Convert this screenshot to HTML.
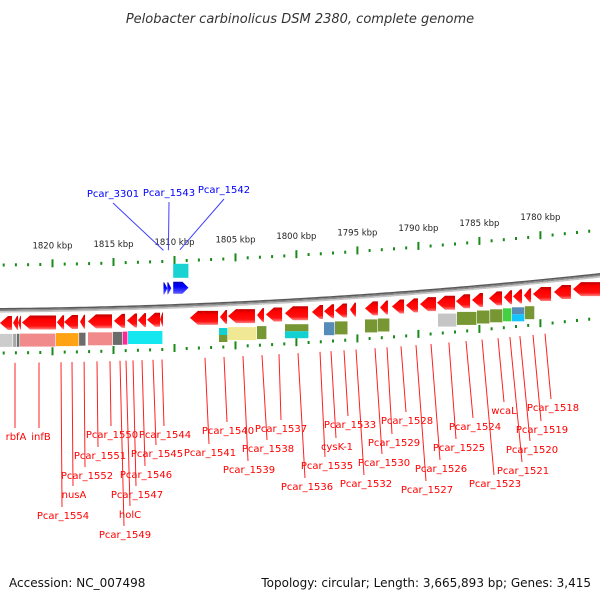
<!DOCTYPE html>
<html><head><meta charset="utf-8"><style>
html,body{margin:0;padding:0;background:#fff;}
svg{display:block;font-family:"DejaVu Sans","Liberation Sans",sans-serif;}
</style></head><body>
<svg id="map" width="600" height="600" viewBox="0 0 600 600" xmlns="http://www.w3.org/2000/svg">
<defs>
<linearGradient id="gRed" x1="0" y1="0" x2="0" y2="1"><stop offset="0" stop-color="#c00000"/><stop offset="0.3" stop-color="#ff0000"/><stop offset="0.75" stop-color="#ff1010"/><stop offset="1" stop-color="#ff8080"/></linearGradient>
<linearGradient id="gBlue" x1="0" y1="0" x2="0" y2="1"><stop offset="0" stop-color="#0000c0"/><stop offset="0.4" stop-color="#0000ff"/><stop offset="1" stop-color="#6060ff"/></linearGradient>
</defs>
<text x="300" y="23" text-anchor="middle" font-size="13" font-style="italic" fill="#333">Pelobacter carbinolicus DSM 2380, complete genome</text>
<g id="layer"></g>
<text x="9" y="587" font-size="12" fill="#111">Accession: NC_007498</text>
<text x="591" y="587" text-anchor="end" font-size="12" fill="#111">Topology: circular; Length: 3,665,893 bp; Genes: 3,415</text>
</svg>
<script>
// axis ticks (kbp)
var tickLabels = [1820,1815,1810,1805,1800,1795,1790,1785,1780];
// minus-strand genes (kbp start/end)
var geneStart = [1824.30,1823.23,1822.82,1822.50,1819.63,1819.05,1817.74,1817.09,1814.96,1813.89,1812.99,1812.25,1811.18,
 1808.73,1806.27,1805.61,1803.23,1802.50,1800.94,1798.73,1797.74,1796.84,1795.61,1794.38,1793.15,1792.17,1791.02,1789.87,1788.48,1786.92,1785.61,1784.22,1782.99,1782.25,1781.35,1780.61,1778.89,1777.33];
var geneEnd = [1823.32,1822.82,1822.58,1819.71,1819.05,1817.91,1817.33,1815.12,1814.05,1813.07,1812.33,1811.18,1810.94,
 1806.43,1805.69,1803.40,1802.66,1801.18,1799.05,1797.82,1796.92,1795.86,1795.12,1793.32,1792.50,1791.18,1790.04,1788.56,1787.00,1785.77,1784.71,1783.15,1782.33,1781.51,1780.77,1779.13,1777.50,1774.60];
// plus-strand (blue) genes
var plusStart = [1810.90,1810.58,1810.10];
var plusEnd = [1810.58,1810.26,1808.85];
// feature boxes: start, end, colour, layer (0 full, 1 top half, 2 bottom half)
var boxStart = [1824.30,1823.23,1822.91,1822.66,1819.71,1817.82,1817.09,1815.04,1814.22,1813.81,
 1806.35,1806.35,1805.61,1803.23,1800.94,1800.94,1797.74,1796.84,1794.38,1793.32,1788.40,1786.84,1785.20,1784.13,1783.07,1782.33,1782.33,1781.27];
var boxEnd = [1823.23,1822.91,1822.66,1819.71,1817.82,1817.25,1815.04,1814.22,1813.81,1810.94,
 1805.61,1805.61,1803.23,1802.41,1798.97,1798.97,1796.84,1795.77,1793.32,1792.33,1786.84,1785.20,1784.13,1783.07,1782.33,1781.27,1781.27,1780.45];
var boxColor = ['#c8c8c8','#a0a0a0','#606060','#f08080','#ff9a00','#606060','#f08080','#606060','#ff1493','#00e5ee',
 '#00cdcd','#6b8e23','#f0e68c','#6b8e23','#6b8e23','#00cdcd','#4682b4','#6b8e23','#6b8e23','#6b8e23','#c0c0c0','#6b8e23','#6b8e23','#6b8e23','#32cd32','#4682b4','#00bfff','#6b8e23'];
var boxLayer = [0,0,0,0,0,0,0,0,0,0, 1,2,0,0,1,2,0,0,0,0,0,0,0,0,0,1,2,0];
// cyan box on plus side
var topBoxStart = [1810.10], topBoxEnd = [1808.85];
// gene labels
var labelNames = ['rbfA','infB','Pcar_1554','nusA','Pcar_1552','Pcar_1551','Pcar_1550','Pcar_1549','holC','Pcar_1547','Pcar_1546','Pcar_1545','Pcar_1544',
 'Pcar_1541','Pcar_1540','Pcar_1539','Pcar_1538','Pcar_1537','Pcar_1536','Pcar_1535','cysK-1','Pcar_1533','Pcar_1532','Pcar_1530','Pcar_1529','Pcar_1528','Pcar_1527','Pcar_1526','Pcar_1525','Pcar_1524','Pcar_1523','wcaL','Pcar_1521','Pcar_1520','Pcar_1519','Pcar_1518'];
var labelKbp = [1823.07,1821.10,1819.30,1818.40,1817.41,1816.35,1815.28,1814.46,1813.97,1813.40,1812.66,1811.76,1811.02,
 1807.50,1805.94,1804.38,1802.82,1801.43,1799.87,1798.07,1797.17,1796.10,1795.12,1793.56,1792.58,1791.43,1790.20,1788.97,1787.50,1786.10,1784.79,1783.48,1782.50,1781.68,1780.61,1779.63];
var labelBotX = [15,39,62,73,85,98,111,124,130,136,145,156,164,209,227,248,267,281,305,325,336,348,364,382,392,406,426,440,456,473,494,504,522,530,541,551];
var labelTextX = [16,41,63,74,87,100,112,125,130,137,146,157,165,210,228,249,268,281,307,327,337,350,366,384,394,407,427,441,459,475,495,504,523,532,542,553];
var labelBase = [440,440,519,498,479,459,438,538,518,498,478,457,438,456,434,473,452,432,490,469,450,428,487,466,446,424,493,472,451,430,487,414,474,453,433,411];
// plus-strand labels
var plusNames = ['Pcar_3301','Pcar_1543','Pcar_1542'];
var plusKbp = [1810.90,1810.50,1809.55];
var plusTextX = [113,169,224];
var plusBase = [197,196,193];

function X(k){ return (1824.30 - k) / 0.08197; }
function arcY(x){ return 308 - 0.00833*x - 0.0000833*x*x; }

var NS='http://www.w3.org/2000/svg', layer=document.getElementById('layer');
function mk(tag, attrs){ var e=document.createElementNS(NS,tag); for(var k in attrs) e.setAttribute(k,attrs[k]); layer.appendChild(e); return e; }

// backbone arc: stacked strokes dark->light
[[0.8,'#5a5a5a',1.6],[2.3,'#8a8a8a',1.6],[3.8,'#c4c4c4',1.6]].forEach(function(s){
  var d='M-5 '+(arcY(-5)+s[0]).toFixed(1);
  for(var x=0;x<=605;x+=5) d+=' L'+x+' '+(arcY(x)+s[0]).toFixed(1);
  var a=mk('path',{d:d,fill:'none',stroke:s[1],'stroke-width':s[2]});
  
  
});

// ticks
for(var k=1825;k>=1774;k--){
  var x=X(k); if(x<-2||x>602) continue;
  var major=(k%5===0);
  [-43,45].forEach(function(off){
    var y=arcY(x)+off;
    var t=mk('rect',{x:(x-1).toFixed(1),y:(major? y-5 : y-1.5).toFixed(1),width:2,height:major?8:3,fill:'#1a8a1a'});
    
    
  });
}
tickLabels.forEach(function(k){
  var x=X(k);
  var t=mk('text',{x:x.toFixed(1),y:(arcY(x)-59).toFixed(1),'text-anchor':'middle','font-size':'8.5',fill:'#222'});
  t.textContent=k+' kbp';
  
  
});

// minus genes
for(var i=0;i<geneStart.length;i++){
  var x1=X(geneStart[i]), x2=X(geneEnd[i]); var l=Math.min(x1,x2), r=Math.max(x1,x2);
  var y=arcY((l+r)/2)+8, h=14, head=Math.min(8,(r-l)*0.8);
  var p=mk('polygon',{points:[l,y+h/2, l+head,y, r,y, r,y+h, l+head,y+h].join(' '),fill:'url(#gRed)'});
  
  
}
// plus genes
for(var i=0;i<plusStart.length;i++){
  var l=X(plusStart[i]), r=X(plusEnd[i]);
  var y=arcY((l+r)/2)-22, h=12, head=Math.min(6,(r-l)*0.8);
  var p=mk('polygon',{points:[l,y, r-head,y, r,y+h/2, r-head,y+h, l,y+h].join(' '),fill:'url(#gBlue)'});
  
  
}
for(var i=0;i<topBoxStart.length;i++){
  var l=X(topBoxStart[i]), r=X(topBoxEnd[i]);
  var y=arcY((l+r)/2)-40;
  var b=mk('rect',{x:l.toFixed(1),y:y.toFixed(1),width:(r-l).toFixed(1),height:14,fill:'#00cdcd',opacity:0.9});
  
  
}
// boxes
for(var i=0;i<boxStart.length;i++){
  var l=X(boxStart[i]), r=X(boxEnd[i]);
  var base=arcY((l+r)/2)+26, h=13, y=base;
  if(boxLayer[i]===1){h=7;} if(boxLayer[i]===2){y=base+7;h=7;}
  var b=mk('rect',{x:l.toFixed(1),y:y.toFixed(1),width:(r-l-0.6).toFixed(1),height:h,fill:boxColor[i],opacity:0.92});
  
  
}
// labels
for(var i=0;i<labelNames.length;i++){
  var x=X(labelKbp[i]);
  var ln=mk('line',{x1:x.toFixed(1),y1:(arcY(x)+55).toFixed(1),x2:labelBotX[i],y2:labelBase[i]-12,stroke:'#ff2020','stroke-width':1});
  
  
  var t=mk('text',{x:labelTextX[i],y:labelBase[i],'text-anchor':'middle','font-size':'10',fill:'#ff0000'});
  t.textContent=labelNames[i];
  
  
}
for(var i=0;i<plusNames.length;i++){
  var x=X(plusKbp[i]);
  var ln=mk('line',{x1:x.toFixed(1),y1:(arcY(x)-54).toFixed(1),x2:plusTextX[i],y2:plusBase[i]+6,stroke:'#4040ff','stroke-width':1});
  
  
  var t=mk('text',{x:plusTextX[i],y:plusBase[i],'text-anchor':'middle','font-size':'10',fill:'#0000ff'});
  t.textContent=plusNames[i];
  
  
}
</script>
</body></html>
